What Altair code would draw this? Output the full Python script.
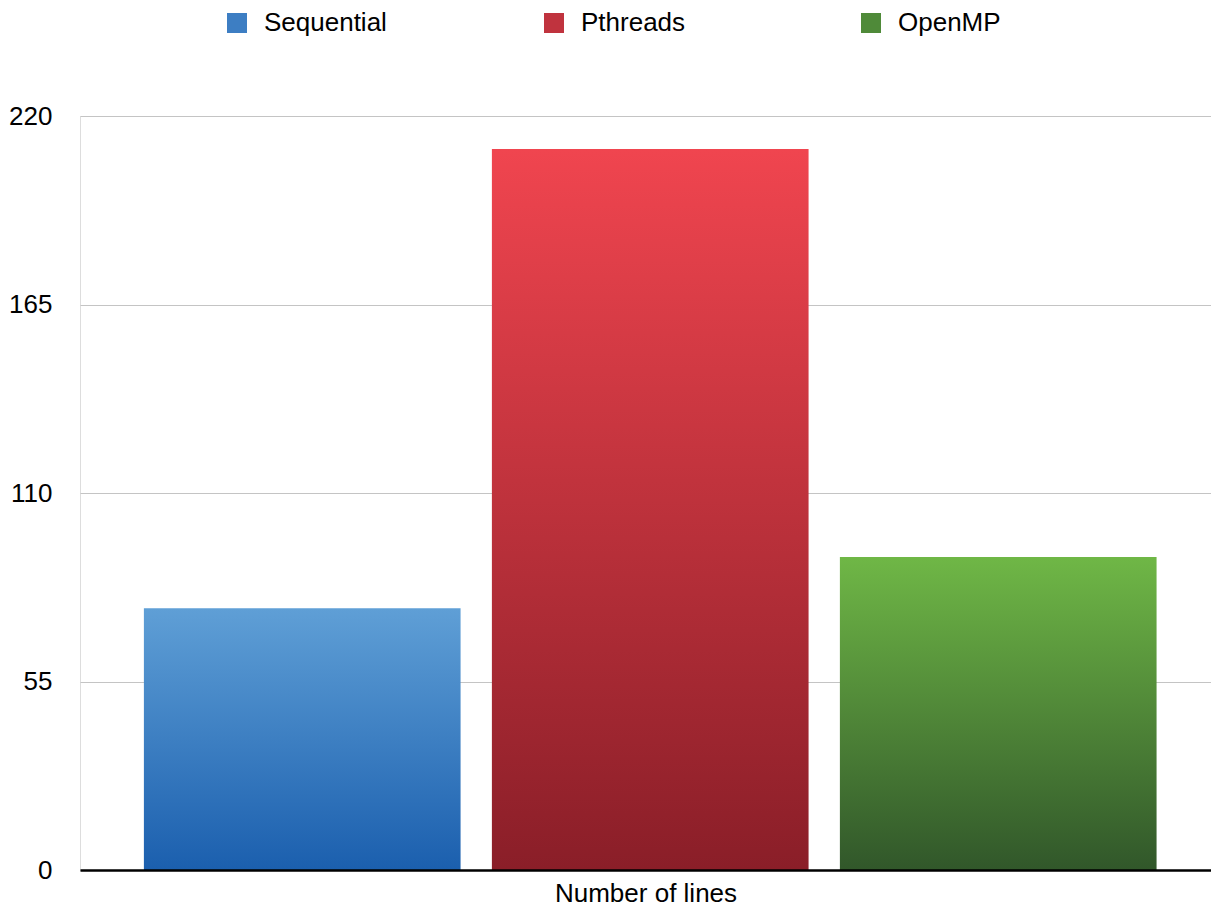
import altair as alt
import pandas as pd

methods = ["Sequential", "Pthreads", "OpenMP"]
values = [76.4, 210.4, 91.3]
top_colors = ["#5f9fd6", "#f0454f", "#6fb746"]
bottom_colors = ["#1b5fae", "#8a1e28", "#31572a"]
legend_colors = ["#3d7ec3", "#c0333e", "#4f8a39"]
y_ticks = [0, 55, 110, 165, 220]

df = pd.DataFrame({"method": methods, "value": values})

FONT = "Liberation Sans"

x_enc = alt.X(
    "method:N",
    scale=alt.Scale(type="band", domain=methods, paddingInner=0.09, paddingOuter=0.17, align=0.54),
    axis=alt.Axis(
        labels=False, ticks=False, domain=True, domainColor="#000000", domainWidth=2.5,
        title="Number of lines", titleFontSize=26, titleFontWeight="normal",
        titleColor="#000000", titlePadding=10, grid=False, zindex=1, titleFont=FONT,
    ),
)
y_enc = alt.Y(
    "value:Q",
    scale=alt.Scale(domain=[0, 220], nice=False),
    axis=alt.Axis(
        values=y_ticks, title=None, domain=False, ticks=False, tickSize=0,
        labelFontSize=26, labelColor="#000000", labelPadding=28, labelFont=FONT,
        grid=True, gridColor="#c4c4c4", gridWidth=1,
    ),
)

base = alt.Chart(df).encode(x=x_enc, y=y_enc)

layers = []
for m, tc, bc in zip(methods, top_colors, bottom_colors):
    grad = alt.Gradient(
        gradient="linear",
        stops=[alt.GradientStop(color=tc, offset=0), alt.GradientStop(color=bc, offset=1)],
        x1=0, x2=0, y1=0, y2=1,
    )
    layers.append(base.transform_filter(alt.datum.method == m).mark_bar(color=grad))

legend_layer = base.mark_square(opacity=0).encode(
    color=alt.Color(
        "method:N",
        scale=alt.Scale(domain=methods, range=legend_colors),
        legend=alt.Legend(
            title=None, orient="none", direction="horizontal", columns=3,
            legendX=144, legendY=-106, gridAlign="all", columnPadding=154,
            symbolType="square", symbolSize=400, symbolOpacity=1, symbolStrokeWidth=0,
            labelFontSize=26, labelFont=FONT, labelColor="#000000", labelOffset=14,
            labelLimit=300,
        ),
    )
)

chart = alt.layer(*layers, legend_layer).properties(
    width=1131,
    height=754,
    autosize=alt.AutoSizeParams(type="none"),
    padding={"left": 80, "top": 116, "right": 0, "bottom": 36},
).configure_view(stroke=None).configure(font=FONT)

chart.save("out.html", embed_options={"renderer": "svg", "actions": False})
